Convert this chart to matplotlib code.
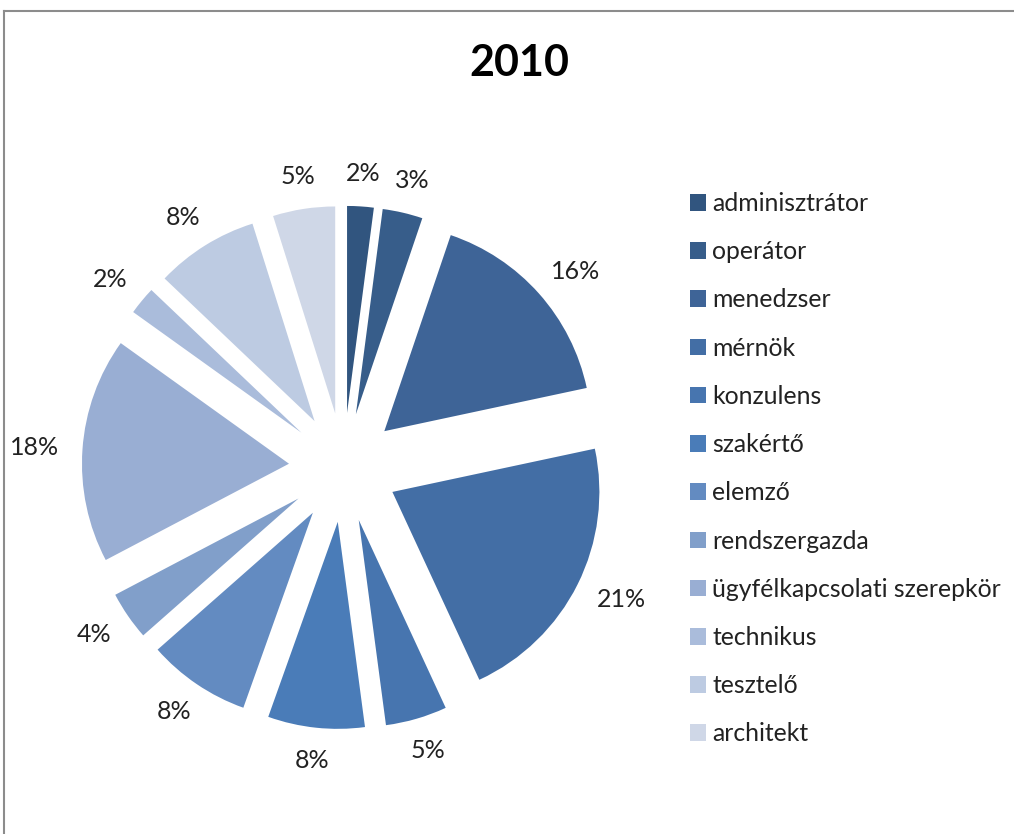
import numpy as np
import matplotlib
matplotlib.use("Agg")
import matplotlib.pyplot as plt
from matplotlib.lines import Line2D

title = "2010"
roles = ["adminisztrátor", "operátor", "menedzser", "mérnök", "konzulens", "szakértő",
         "elemző", "rendszergazda", "ügyfélkapcsolati szerepkör", "technikus", "tesztelő", "architekt"]
# shares (labels are the rounded values)
shares = [2.07, 3.13, 16.45, 21.45, 4.8, 7.55, 8.05, 3.8, 17.6, 2.2, 8.05, 4.85]
labels = ["2%", "3%", "16%", "21%", "5%", "8%", "8%", "4%", "18%", "2%", "8%", "5%"]
colors = ["#31557f", "#375d8a", "#3e6497", "#436ea5", "#4775af", "#4a7cb8",
          "#638bc1", "#819fca", "#99aed3", "#aabcdb", "#bdcbe2", "#cfd7e7"]

plt.rcParams["font.family"] = ["Lato", "DejaVu Sans"]
W, H = 1014, 834
fig = plt.figure(figsize=(W / 100, H / 100), dpi=100)
ax = fig.add_axes([0, 0, 1, 1])
cx, cy, r = 343.5, 467.5, 207

wedges, _ = ax.pie(shares, colors=colors, startangle=90, counterclock=False, explode=[0.264] * len(shares),
                   wedgeprops={"linewidth": 0})
ax.set_aspect("auto")
ax.set_xlim(-cx / r, (W - cx) / r); ax.set_ylim((cy - H) / r, cy / r); ax.axis("off")

# Excel-style labels: box edge sits a fixed gap outside the rim
renderer = fig.canvas.get_renderer()
gap = 24
for w, lab in zip(wedges, labels):
    mid = np.deg2rad((w.theta1 + w.theta2) / 2)
    dx, dy = np.cos(mid), np.sin(mid)
    rim = (w.center[0] + w.r * dx, w.center[1] + w.r * dy)
    t = ax.annotate(lab, rim, xytext=(0, 0), textcoords="offset pixels", ha="center", va="center",
                    fontsize=18, color="#222222")
    bb = t.get_window_extent(renderer)
    t.set_position((dx * (gap + bb.width / 2), dy * (gap + 9)))

fig.text(519 / W, 1 - 63 / H, title, ha="center", va="center", fontsize=31, fontweight="bold")
fig.legend(wedges, roles, loc="upper left", bbox_to_anchor=(690 / W, 1 - 192 / H), frameon=False,
           fontsize=17.8, handlelength=0.65, handleheight=0.65, handletextpad=0.26, labelspacing=1.02,
           borderpad=0, borderaxespad=0, labelcolor="#222222")
fig.add_artist(Line2D([4 / W, 4 / W], [0, 1 - 11 / H], color="#8c8c8c", lw=1.5))
fig.add_artist(Line2D([4 / W, 1], [1 - 11 / H, 1 - 11 / H], color="#8c8c8c", lw=1.5))
fig.savefig("out.png", dpi=100)
